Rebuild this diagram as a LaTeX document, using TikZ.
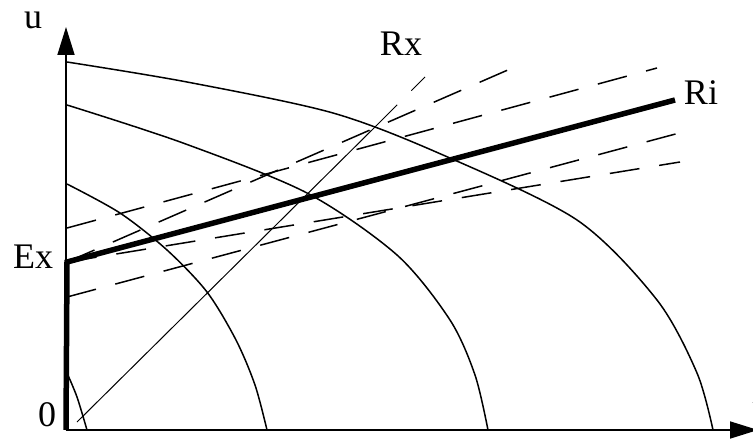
\documentclass[tikz,border=0pt]{standalone}
\usepackage{fontspec}
\setmainfont{Liberation Serif}
\usetikzlibrary{arrows.meta}

\begin{document}
\begin{tikzpicture}[x=1pt, y=-1pt,
  axis/.style={line width=1.7pt, -{Triangle[length=28pt, width=17pt]}},
  curve/.style={line width=1.5pt},
  band/.style={line width=1.5pt, dash pattern=on 30pt off 20pt},
  char/.style={line width=5.5pt, line join=miter},
  lbl/.style={font=\fontsize{36}{36}\selectfont, inner sep=0pt},
]
\useasboundingbox (0,0) rectangle (753,441);

\coordinate (o) at (66,430);
\coordinate (utop) at (66,27);
\coordinate (iend) at (758,430);
\coordinate (ex) at (67,262);
\coordinate (ri) at (675,100);
\coordinate (up1) at (67,228);
\coordinate (up1end) at (657,68);
\coordinate (lo1) at (67,297);
\coordinate (lo1end) at (683,132);
\coordinate (steepend) at (517,66);
\coordinate (flatend) at (680,162);
\coordinate (rx0) at (77,422);
\coordinate (rx1) at (376,126);
\coordinate (rx2) at (425,77);

% axes
\draw[axis] (o) -- (utop);
\draw[axis] (o) -- (iend);

% quarter curves
\draw[curve] plot[smooth] coordinates {(67,62) (187,82) (333,113) (443,155)
  (577,220) (657,300) (697,373) (713,430)};
\draw[curve] plot[smooth] coordinates {(67,105) (183,143) (307,193) (397,255)
  (450,320) (475,375) (488,430)};
\draw[curve] plot[smooth] coordinates {(67,184) (120,213) (167,250) (207,292)
  (236,340) (255,385) (267,430)};
\draw[curve] plot[smooth] coordinates {(67,373) (77,397) (87,430)};

% dashed bands
\draw[band] (up1) -- (up1end);
\draw[band] (lo1) -- (lo1end);
\draw[band] (ex) -- (steepend);
\draw[band] (ex) -- (flatend);

% Rx line
\draw[line width=1pt] (rx0) -- (rx1);
\draw[band, line width=1pt] (rx1) -- (rx2);

% characteristic
\draw[char] (o) -- (ex) -- (ri);

% labels
\node[lbl] (ulab) at (33,20) {u};
\node[lbl] (exlab) at (33,257) {Ex};
\node[lbl] (zerolab) at (47,415) {0};
\node[lbl] (rxlab) at (401,44) {Rx};
\node[lbl] (rilab) at (701,93) {Ri};
\node[lbl] (ilab) at (757,392) {i};

\end{tikzpicture}
\end{document}
